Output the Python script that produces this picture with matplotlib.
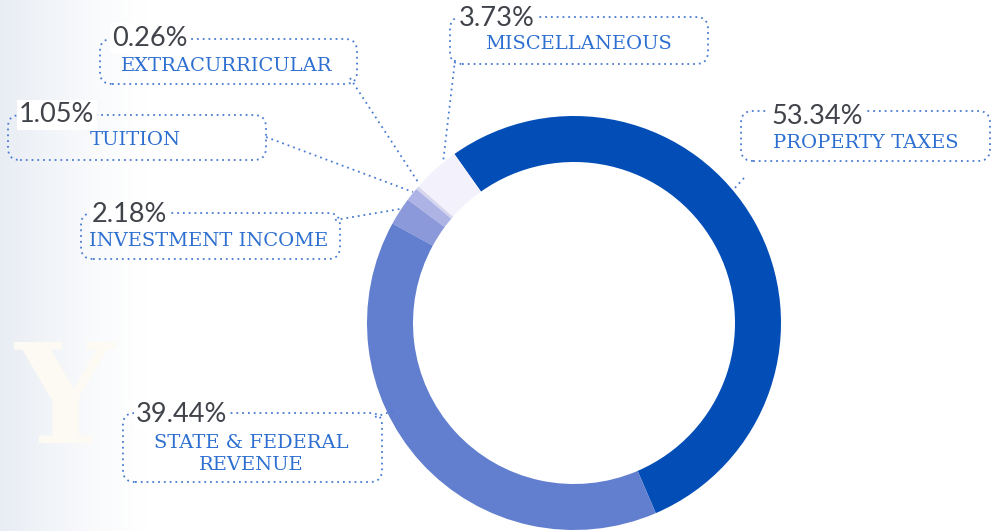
import numpy as np
import matplotlib
matplotlib.use("Agg")
import matplotlib.pyplot as plt
from matplotlib.patches import FancyBboxPatch

W, H = 991, 531

# slice order, counter-clockwise from the property/state split
categories = ["PROPERTY TAXES", "MISCELLANEOUS", "EXTRACURRICULAR", "TUITION",
              "INVESTMENT INCOME", "STATE & FEDERAL\nREVENUE"]
shares = [53.34, 3.73, 0.26, 1.05, 2.18, 39.44]
pct_labels = ["%.2f%%" % v for v in shares]
colors = ["#034db7", "#f3f2fc", "#d5d5ee", "#adb3e5", "#8b98da", "#617ecf"]

# callout layout in image pixels (y measured from top)
boxes = [(741, 111, 990, 161), (450, 17, 708, 64), (100, 39, 357, 84),
         (8, 115, 266, 160), (81, 213, 340, 259), (123, 413, 382, 482)]
pct_pos = [(771, 117), (459, 19), (112, 38), (19, 115), (92, 215), (136, 415)]
label_pos = [(866, 143), (578, 44), (227, 66), (135, 140), (209, 241), (251, 454)]
leaders = [((744, 178), (733, 190)), ((455, 60), (443, 163)),
           ((350, 78), (418, 182)), ((266, 137), (413, 192)),
           ((335, 220), (400, 209)), ((375, 417), (393, 411))]

DOT = "#4a7bd3"
PCT_COLOR = "#40434a"
LBL_COLOR = "#2d6fd0"


def fy(y):
    return H - y


fig = plt.figure(figsize=(W / 100, H / 100), dpi=100)
ax = fig.add_axes([0, 0, 1, 1])

# faint left-side background wash
grad = np.linspace(0, 1, 200)
bg = np.ones((2, 200, 4))
bg[..., 0] = 0.91
bg[..., 1] = 0.93
bg[..., 2] = 0.96
bg[..., 3] = (1 - grad) ** 1.3
ax.imshow(bg, extent=(0, 150, 0, H), aspect="auto", zorder=0)
ax.text(64, fy(405), "Y", fontsize=100, family="DejaVu Serif", fontweight="bold",
        color="#fdf9f3", ha="center", va="center", zorder=0.5)

ax.pie(shares, colors=colors, startangle=125.3 - shares[0] * 3.6,
       counterclock=True, center=(574, fy(323)), radius=207,
       wedgeprops=dict(width=46, edgecolor="none"))

for i in range(len(categories)):
    x0, y0, x1, y1 = boxes[i]
    box = FancyBboxPatch((x0, fy(y1)), x1 - x0, y1 - y0,
                         boxstyle="round,pad=0,rounding_size=12", fill=False,
                         ec=DOT, lw=1.3, ls=(0, (1, 2.2)), zorder=2)
    ax.add_patch(box)
    (ax_, ay_), (bx_, by_) = leaders[i]
    ax.plot([ax_, bx_], [fy(ay_), fy(by_)], color=DOT, lw=1.3,
            ls=(0, (1, 2.2)), zorder=2)
    px, py = pct_pos[i]
    ax.text(px, fy(py), pct_labels[i], ha="left", va="center", fontsize=19.5,
            family="Lato", fontweight="normal", color=PCT_COLOR, zorder=3,
            bbox=dict(fc="white", ec="none", pad=1.5))
    lx, ly = label_pos[i]
    ax.text(lx, fy(ly), categories[i], ha="center", va="center", fontsize=14,
            family="DejaVu Serif", color=LBL_COLOR, linespacing=1.35, zorder=3)

ax.set_xlim(0, W)
ax.set_ylim(0, H)
ax.set_aspect("auto")
ax.axis("off")

fig.savefig("out.png", dpi=100, facecolor="white")
